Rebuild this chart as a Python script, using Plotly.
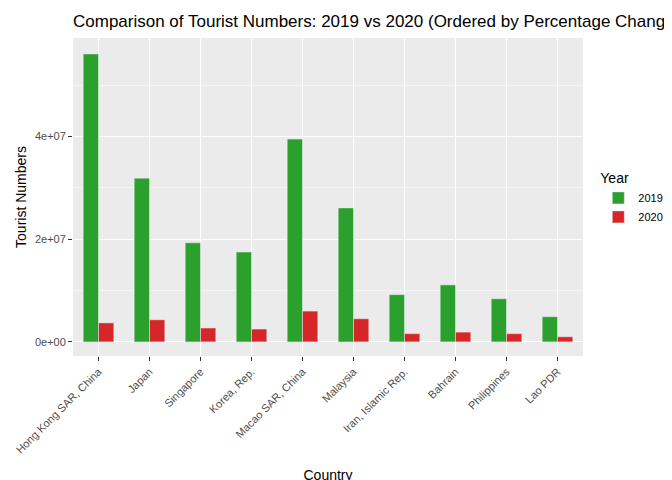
import plotly.graph_objects as go

countries = ["Hong Kong SAR, China", "Japan", "Singapore", "Korea, Rep.", "Macao SAR, China",
             "Malaysia", "Iran, Islamic Rep.", "Bahrain", "Philippines", "Lao PDR"]
tourists_2019 = [56.1e6, 31.9e6, 19.3e6, 17.5e6, 39.5e6, 26.1e6, 9.2e6, 11.1e6, 8.4e6, 4.9e6]
tourists_2020 = [3.7e6, 4.3e6, 2.7e6, 2.5e6, 6.0e6, 4.5e6, 1.6e6, 1.9e6, 1.6e6, 1.0e6]

fig = go.Figure()
fig.add_trace(go.Bar(x=countries, y=tourists_2019, name="2019", marker_color="#2ca02c"))
fig.add_trace(go.Bar(x=countries, y=tourists_2020, name="2020", marker_color="#d62728"))

fig.update_layout(
    width=672, height=480,
    barmode="group", bargap=0.4, bargroupgap=0,
    paper_bgcolor="white", plot_bgcolor="#ebebeb",
    font=dict(family="Liberation Sans, Arial", size=11, color="#4d4d4d"),
    margin=dict(l=65, r=95, t=30, b=132),
    title=dict(text="Comparison of Tourist Numbers: 2019 vs 2020 (Ordered by Percentage Change)",
               x=0, xref="paper", xanchor="left", y=0.985, yanchor="top",
               font=dict(size=17, color="black")),
    legend=dict(title=dict(text="Year", font=dict(size=14, color="black")),
                x=1.03, y=0.6, xanchor="left", yanchor="top",
                font=dict(size=11, color="black"), tracegroupgap=0),
    xaxis=dict(title=dict(text="Country", font=dict(size=14, color="black")),
               tickangle=-45, showgrid=True, gridcolor="white", ticks="outside",
               ticklen=4, tickcolor="#333333", tickfont=dict(size=11), automargin=False),
    yaxis=dict(title=dict(text="Tourist Numbers", font=dict(size=14, color="black"), standoff=4),
               range=[-2.75e6, 59.2e6], tickvals=[0, 2e7, 4e7],
               ticktext=["0e+00", "2e+07", "4e+07"],
               gridcolor="white", zeroline=False, ticks="outside", ticklen=4,
               tickcolor="#333333", tickfont=dict(size=11), automargin=False,
               minor=dict(tickvals=[1e7, 3e7, 5e7], showgrid=True, gridcolor="#f5f5f5")),
)

fig.write_html("out.html")
